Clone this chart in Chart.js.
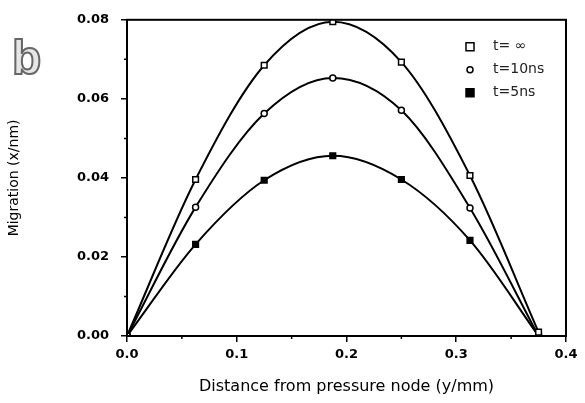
<!doctype html>
<html>

<head>
    <title>Migration</title>
    <script src="https://cdn.jsdelivr.net/npm/chart.js"></script>
    <style>
        html, body { margin: 0; padding: 0; background: #fff; }
        .box { width: 585px; height: 403px; }
    </style>
</head>

<body>
    <div class="box">
        <canvas id="grafico" width="585" height="403"></canvas>
    </div>

    <script>
        // distance from pressure node (y/mm)
        var distancia = [0, 0.0625, 0.125, 0.1875, 0.25, 0.3125, 0.375];
        // migration (x/nm)
        var tInfinito = [0, 0.0396, 0.0685, 0.0795, 0.0693, 0.0406, 0.001];
        var t10ns = [0, 0.0326, 0.0563, 0.0653, 0.0571, 0.0324, 0];
        var t5ns = [0, 0.0232, 0.0394, 0.0456, 0.0396, 0.0242, 0];
        var rotulos = ['t= \u221E', 't=10ns', 't=5ns'];
        var ticksX = [0, 0.1, 0.2, 0.3, 0.4];
        var ticksY = [0, 0.02, 0.04, 0.06, 0.08];

        function pontos(valores) {
            return distancia.map((x, i) => ({ x: x, y: valores[i] }));
        }

        var fonte = "'DejaVu Sans', 'Liberation Sans', Arial, sans-serif";

        // frame, minor ticks, legend and the "b" label
        var extras = {
            id: 'extras',
            afterDraw(chart) {
                var ctx = chart.ctx;
                var a = chart.chartArea;
                var sx = chart.scales.x, sy = chart.scales.y;
                ctx.save();
                ctx.strokeStyle = '#000';
                ctx.lineWidth = 2;
                ctx.strokeRect(a.left, a.top, a.right - a.left, a.bottom - a.top);

                ctx.lineWidth = 1.5;
                ctx.beginPath();
                [0.05, 0.15, 0.25, 0.35].forEach(v => {
                    var px = sx.getPixelForValue(v);
                    ctx.moveTo(px, a.bottom);
                    ctx.lineTo(px, a.bottom + 3);
                });
                [0.01, 0.03, 0.05, 0.07].forEach(v => {
                    var py = sy.getPixelForValue(v);
                    ctx.moveTo(a.left, py);
                    ctx.lineTo(a.left - 3, py);
                });
                ctx.stroke();

                // legend
                ctx.font = '14px ' + fonte;
                ctx.textBaseline = 'middle';
                chart.data.datasets.forEach((ds, i) => {
                    var lx = a.right - 96;
                    var ly = a.top + 27 + i * 23;
                    desenhaMarcador(ctx, ds.pointStyle, lx, ly, ds.pointRadius, ds.pointBackgroundColor);
                    ctx.fillStyle = '#222';
                    ctx.fillText(rotulos[i], lx + 23, ly);
                });

                ctx.font = 'bold 48px "Liberation Sans", Arial, sans-serif';
                ctx.textBaseline = 'alphabetic';
                ctx.fillStyle = '#e6e6e6';
                ctx.strokeStyle = '#666';
                ctx.lineWidth = 2;
                ctx.fillText('b', 12, 74);
                ctx.strokeText('b', 12, 74);
                ctx.restore();
            }
        };

        function desenhaMarcador(ctx, estilo, x, y, r, fundo) {
            ctx.save();
            ctx.lineWidth = 1.5;
            ctx.strokeStyle = '#000';
            ctx.fillStyle = fundo;
            ctx.beginPath();
            if (estilo === 'circle') {
                ctx.arc(x, y, r, 0, Math.PI * 2);
            } else {
                ctx.rect(x - r, y - r, r * 2, r * 2);
            }
            ctx.fill();
            ctx.stroke();
            ctx.restore();
        }

        var grafico = new Chart(document.getElementById('grafico').getContext('2d'), {
            type: 'line',
            data: {
                datasets: [{
                    label: rotulos[0],
                    data: pontos(tInfinito),
                    borderColor: '#000',
                    borderWidth: 2,
                    pointStyle: 'rect',
                    pointRadius: 4,
                    pointBorderWidth: 1.5,
                    pointBorderColor: '#000',
                    pointBackgroundColor: '#fff',
                    cubicInterpolationMode: 'monotone'
                }, {
                    label: rotulos[1],
                    data: pontos(t10ns),
                    borderColor: '#000',
                    borderWidth: 2,
                    pointStyle: 'circle',
                    pointRadius: 3,
                    pointBorderWidth: 1.5,
                    pointBorderColor: '#000',
                    pointBackgroundColor: '#fff',
                    cubicInterpolationMode: 'monotone'
                }, {
                    label: rotulos[2],
                    data: pontos(t5ns),
                    borderColor: '#000',
                    borderWidth: 2,
                    pointStyle: 'rect',
                    pointRadius: 4,
                    pointBorderWidth: 1.5,
                    pointBorderColor: '#000',
                    pointBackgroundColor: '#000',
                    cubicInterpolationMode: 'monotone'
                }]
            },
            options: {
                responsive: false,
                animation: false,
                layout: { padding: { left: 0, right: 19, top: 15, bottom: 0 } },
                plugins: {
                    legend: { display: false },
                    tooltip: { enabled: false }
                },
                scales: {
                    x: {
                        type: 'linear',
                        min: 0,
                        max: 0.4,
                        afterBuildTicks: (s) => { s.ticks = ticksX.map(v => ({ value: v })); },
                        afterFit: (s) => { s.height = 67; },
                        border: { color: '#000', width: 2 },
                        grid: { drawOnChartArea: false, color: '#000', tickLength: 6, lineWidth: 1.5 },
                        ticks: {
                            color: '#000',
                            padding: 5,
                            maxRotation: 0,
                            font: { family: fonte, size: 13, weight: 'bold' },
                            callback: (v) => v.toFixed(1)
                        },
                        title: {
                            display: true,
                            text: 'Distance from pressure node (y/mm)',
                            color: '#000',
                            font: { family: fonte, size: 16 },
                            padding: { top: 4, bottom: 7 }
                        }
                    },
                    y: {
                        type: 'linear',
                        min: 0,
                        max: 0.08,
                        afterBuildTicks: (s) => { s.ticks = ticksY.map(v => ({ value: v })); },
                        afterFit: (s) => { s.width = 127; },
                        border: { color: '#000', width: 2 },
                        grid: { drawOnChartArea: false, color: '#000', tickLength: 6, lineWidth: 1.5 },
                        ticks: {
                            color: '#000',
                            padding: 12,
                            font: { family: fonte, size: 13, weight: 'bold' },
                            callback: (v) => v.toFixed(2)
                        },
                        title: {
                            display: true,
                            text: 'Migration (x/nm)',
                            color: '#000',
                            font: { family: fonte, size: 14 },
                            padding: { top: 6, bottom: 0 }
                        }
                    }
                }
            },
            plugins: [extras]
        });
    </script>
</body>

</html>
